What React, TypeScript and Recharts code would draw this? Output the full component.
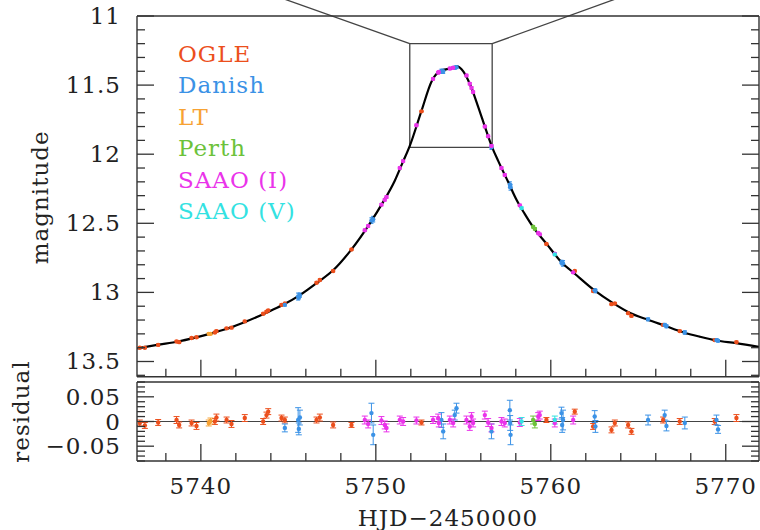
import React from "react";
import {
  ComposedChart,
  Line,
  Scatter,
  XAxis,
  YAxis,
  ErrorBar,
  ReferenceLine,
  ReferenceArea,
  Legend,
} from "recharts";

const FONT = "'DejaVu Serif', serif";
const INK = "#333";

// model light curve (HJD-2450000, mag)
const model = [
  { t: 5736.35, mag: 13.406 },
  { t: 5737.5, mag: 13.38 },
  { t: 5738.7, mag: 13.355 },
  { t: 5740.5, mag: 13.3 },
  { t: 5741.66, mag: 13.256 },
  { t: 5742.5, mag: 13.215 },
  { t: 5743.75, mag: 13.147 },
  { t: 5744.7, mag: 13.09 },
  { t: 5745.66, mag: 13.02 },
  { t: 5746.7, mag: 12.925 },
  { t: 5747.56, mag: 12.84 },
  { t: 5748.6, mag: 12.69 },
  { t: 5749.66, mag: 12.5 },
  { t: 5750.42, mag: 12.345 },
  { t: 5751.09, mag: 12.19 },
  { t: 5751.5, mag: 12.07 },
  { t: 5751.94, mag: 11.94 },
  { t: 5752.6, mag: 11.69 },
  { t: 5753.2, mag: 11.47 },
  { t: 5753.66, mag: 11.4 },
  { t: 5754.23, mag: 11.38 },
  { t: 5754.7, mag: 11.367 },
  { t: 5754.9, mag: 11.385 },
  { t: 5755.37, mag: 11.49 },
  { t: 5755.85, mag: 11.657 },
  { t: 5756.3, mag: 11.826 },
  { t: 5756.65, mag: 11.95 },
  { t: 5757.0, mag: 12.05 },
  { t: 5757.56, mag: 12.2 },
  { t: 5758.04, mag: 12.33 },
  { t: 5758.5, mag: 12.43 },
  { t: 5758.99, mag: 12.527 },
  { t: 5759.75, mag: 12.647 },
  { t: 5760.6, mag: 12.78 },
  { t: 5761.37, mag: 12.865 },
  { t: 5762.5, mag: 12.986 },
  { t: 5763.56, mag: 13.078 },
  { t: 5764.5, mag: 13.147 },
  { t: 5765.56, mag: 13.198 },
  { t: 5766.5, mag: 13.24 },
  { t: 5767.56, mag: 13.288 },
  { t: 5768.5, mag: 13.32 },
  { t: 5769.47, mag: 13.348 },
  { t: 5770.6, mag: 13.367 },
  { t: 5771.9, mag: 13.395 },
];

const ogle = [
  { t: 5736.51, mag: 13.4, res: -0.003, err: 0.006 },
  { t: 5736.8, mag: 13.4, res: -0.008, err: 0.006 },
  { t: 5737.56, mag: 13.38, res: -0.002, err: 0.006 },
  { t: 5738.61, mag: 13.355, res: 0.003, err: 0.007 },
  { t: 5738.76, mag: 13.36, res: -0.007, err: 0.006 },
  { t: 5739.47, mag: 13.33, res: -0.003, err: 0.006 },
  { t: 5739.75, mag: 13.325, res: -0.009, err: 0.007 },
  { t: 5740.8, mag: 13.29, res: 0.0, err: 0.006 },
  { t: 5740.89, mag: 13.28, res: 0.008, err: 0.007 },
  { t: 5741.47, mag: 13.26, res: 0.003, err: 0.006 },
  { t: 5741.75, mag: 13.255, res: -0.005, err: 0.007 },
  { t: 5742.51, mag: 13.21, res: 0.007, err: 0.007 },
  { t: 5743.56, mag: 13.155, res: 0.0, err: 0.006 },
  { t: 5743.75, mag: 13.14, res: 0.013, err: 0.006 },
  { t: 5743.85, mag: 13.13, res: 0.02, err: 0.006 },
  { t: 5744.61, mag: 13.09, res: 0.007, err: 0.006 },
  { t: 5744.8, mag: 13.08, res: 0.003, err: 0.006 },
  { t: 5746.61, mag: 12.93, res: 0.003, err: 0.006 },
  { t: 5746.8, mag: 12.91, res: 0.008, err: 0.007 },
  { t: 5747.56, mag: 12.845, res: -0.007, err: 0.006 },
  { t: 5748.61, mag: 12.69, res: -0.007, err: 0.005 },
  { t: 5752.61, mag: 11.69, res: -0.002, err: 0.005 },
  { t: 5759.75, mag: 12.65, res: 0.003, err: 0.005 },
  { t: 5761.37, mag: 12.845, res: 0.02, err: 0.005 },
  { t: 5762.42, mag: 12.99, res: -0.01, err: 0.006 },
  { t: 5763.47, mag: 13.085, res: -0.017, err: 0.006 },
  { t: 5763.66, mag: 13.08, res: -0.003, err: 0.006 },
  { t: 5764.42, mag: 13.15, res: -0.007, err: 0.006 },
  { t: 5764.61, mag: 13.17, res: -0.02, err: 0.006 },
  { t: 5766.42, mag: 13.235, res: 0.003, err: 0.006 },
  { t: 5767.37, mag: 13.28, res: 0.0, err: 0.006 },
  { t: 5769.37, mag: 13.345, res: 0.0, err: 0.006 },
  { t: 5770.61, mag: 13.36, res: 0.007, err: 0.007 },
];

const danish = [
  { t: 5744.8, mag: 13.09, res: -0.013, err: 0.008 },
  { t: 5745.56, mag: 13.03, res: 0.003, err: 0.025 },
  { t: 5745.66, mag: 13.02, res: 0.008, err: 0.015 },
  { t: 5745.6, mag: 13.035, res: -0.015, err: 0.012 },
  { t: 5749.75, mag: 12.48, res: 0.017, err: 0.02 },
  { t: 5749.85, mag: 12.47, res: -0.027, err: 0.02 },
  { t: 5753.75, mag: 11.4, res: 0.003, err: 0.015 },
  { t: 5753.85, mag: 11.4, res: -0.02, err: 0.015 },
  { t: 5754.51, mag: 11.375, res: 0.013, err: 0.01 },
  { t: 5754.61, mag: 11.37, res: 0.027, err: 0.01 },
  { t: 5756.61, mag: 11.95, res: -0.02, err: 0.015 },
  { t: 5757.66, mag: 12.22, res: 0.023, err: 0.02 },
  { t: 5757.68, mag: 12.23, res: -0.003, err: 0.015 },
  { t: 5757.7, mag: 12.24, res: -0.027, err: 0.02 },
  { t: 5760.61, mag: 12.78, res: 0.017, err: 0.012 },
  { t: 5760.65, mag: 12.785, res: -0.007, err: 0.015 },
  { t: 5760.7, mag: 12.79, res: 0.003, err: 0.02 },
  { t: 5762.51, mag: 12.985, res: 0.01, err: 0.012 },
  { t: 5762.55, mag: 12.99, res: -0.01, err: 0.012 },
  { t: 5765.56, mag: 13.195, res: 0.003, err: 0.01 },
  { t: 5766.51, mag: 13.235, res: 0.013, err: 0.01 },
  { t: 5766.61, mag: 13.245, res: -0.009, err: 0.01 },
  { t: 5767.66, mag: 13.29, res: -0.003, err: 0.012 },
  { t: 5769.47, mag: 13.345, res: 0.003, err: 0.01 },
  { t: 5769.56, mag: 13.35, res: -0.016, err: 0.008 },
];

const lt = [
  { t: 5740.45, mag: 13.3, res: -0.003, err: 0.006 },
  { t: 5740.55, mag: 13.3, res: 0.001, err: 0.006 },
];

const perth = [
  { t: 5758.99, mag: 12.525, res: 0.003, err: 0.008 },
  { t: 5759.09, mag: 12.54, res: -0.005, err: 0.008 },
];

const saaoI = [
  { t: 5749.37, mag: 12.55, res: 0.003, err: 0.008 },
  { t: 5749.56, mag: 12.52, res: -0.005, err: 0.008 },
  { t: 5750.32, mag: 12.365, res: 0.002, err: 0.008 },
  { t: 5750.51, mag: 12.33, res: -0.007, err: 0.008 },
  { t: 5750.61, mag: 12.31, res: -0.013, err: 0.008 },
  { t: 5751.37, mag: 12.1, res: 0.003, err: 0.008 },
  { t: 5751.56, mag: 12.05, res: 0.0, err: 0.008 },
  { t: 5752.32, mag: 11.79, res: 0.002, err: 0.007 },
  { t: 5753.27, mag: 11.455, res: 0.003, err: 0.007 },
  { t: 5753.56, mag: 11.41, res: 0.007, err: 0.008 },
  { t: 5753.6, mag: 11.405, res: -0.003, err: 0.008 },
  { t: 5754.23, mag: 11.38, res: 0.003, err: 0.008 },
  { t: 5754.42, mag: 11.375, res: -0.003, err: 0.008 },
  { t: 5755.18, mag: 11.43, res: 0.003, err: 0.008 },
  { t: 5755.37, mag: 11.49, res: -0.01, err: 0.008 },
  { t: 5755.47, mag: 11.52, res: 0.01, err: 0.008 },
  { t: 5755.56, mag: 11.55, res: -0.003, err: 0.008 },
  { t: 5756.23, mag: 11.8, res: 0.013, err: 0.008 },
  { t: 5756.42, mag: 11.87, res: -0.002, err: 0.008 },
  { t: 5756.61, mag: 11.94, res: -0.013, err: 0.008 },
  { t: 5757.18, mag: 12.1, res: 0.0, err: 0.008 },
  { t: 5757.37, mag: 12.15, res: -0.003, err: 0.008 },
  { t: 5758.23, mag: 12.37, res: -0.002, err: 0.008 },
  { t: 5759.28, mag: 12.57, res: 0.01, err: 0.008 },
  { t: 5759.37, mag: 12.58, res: 0.013, err: 0.008 },
  { t: 5760.23, mag: 12.72, res: -0.003, err: 0.008 },
  { t: 5761.28, mag: 12.855, res: 0.003, err: 0.008 },
];

const saaoV = [
  { t: 5758.33, mag: 12.39, res: 0.0, err: 0.008 },
  { t: 5760.23, mag: 12.725, res: 0.003, err: 0.008 },
];

const series = [
  { name: "OGLE", color: "#ec4f1c", data: ogle },
  { name: "Danish", color: "#3b92e6", data: danish },
  { name: "LT", color: "#f7a233", data: lt },
  { name: "Perth", color: "#6cc23a", data: perth },
  { name: "SAAO (I)", color: "#ea33ea", data: saaoI },
  { name: "SAAO (V)", color: "#33e2e2", data: saaoV },
];

// axis ticks
const xTicks = [5738, 5740, 5742, 5744, 5746, 5748, 5750, 5752, 5754, 5756, 5758, 5760, 5762, 5764, 5766, 5768, 5770];
const xMajor = [5740, 5750, 5760, 5770];
const xLabels = ["5740", "5750", "5760", "5770"];
const magTicks = [
  11.0, 11.1, 11.2, 11.3, 11.4, 11.5, 11.6, 11.7, 11.8, 11.9, 12.0, 12.1, 12.2, 12.3,
  12.4, 12.5, 12.6, 12.7, 12.8, 12.9, 13.0, 13.1, 13.2, 13.3, 13.4, 13.5, 13.6,
];
const magMajor = [11, 11.5, 12, 12.5, 13, 13.5];
const magLabels = ["11", "11.5", "12", "12.5", "13", "13.5"];
const resTicks = [-0.08, -0.07, -0.06, -0.05, -0.04, -0.03, -0.02, -0.01, 0, 0.01, 0.02, 0.03, 0.04, 0.05, 0.06, 0.07, 0.08];
const resMajor = [-0.05, 0, 0.05];
const resLabels = ["\u22120.05", "0", "0.05"];

const X_DOMAIN = [5736.35, 5771.9];

const textStyle = { fontFamily: FONT, fontSize: 23, fill: "#222", letterSpacing: 1 };

const makeTick = (side: string, major: number[], labels?: string[]) => (props: any) => {
  const { x, y, payload } = props;
  const idx = major.findIndex((m) => Math.abs(m - payload.value) < 1e-6);
  const len = idx >= 0 ? 17 : 8;
  let l = { x1: x, x2: x, y1: y, y2: y };
  if (side === "bottom") l.y2 = y - len;
  if (side === "top") l.y2 = y + len;
  if (side === "left") l.x2 = x + len;
  if (side === "right") l.x2 = x - len;
  return (
    <g>
      <line {...l} stroke={INK} strokeWidth={1.3} />
      {labels && idx >= 0 && side === "bottom" && (
        <text x={x} y={y + 33} textAnchor="middle" {...textStyle}>
          {labels[idx]}
        </text>
      )}
      {labels && idx >= 0 && side === "left" && (
        <text x={x - 16} y={y + 8} textAnchor="end" {...textStyle}>
          {labels[idx]}
        </text>
      )}
    </g>
  );
};

const sideLabel = (text: string, dx: number, dy: number) => (p: any) => {
  const vb = p.viewBox || {};
  const cx = vb.x + vb.width + dx;
  const cy = vb.y + vb.height / 2 + dy;
  return (
    <text
      x={cx}
      y={cy}
      transform={`rotate(-90 ${cx} ${cy})`}
      textAnchor="middle"
      dominantBaseline="central"
      {...textStyle}
    >
      {text}
    </text>
  );
};

const bottomLabel = (p: any) => {
  const vb = p.viewBox || {};
  return (
    <text x={vb.x + vb.width / 2} y={vb.y + 57} textAnchor="middle" dominantBaseline="central" {...textStyle}>
      HJD{"\u2212"}2450000
    </text>
  );
};

const dot = (color: string) => (p: any) => <circle cx={p.cx} cy={p.cy} r={2.2} fill={color} />;

const LegendBox = () => (
  <div style={{ fontFamily: FONT, fontSize: 23, lineHeight: "31.4px", letterSpacing: 1 }}>
    {series.map((s) => (
      <div key={s.name} style={{ color: s.color }}>
        {s.name}
      </div>
    ))}
  </div>
);

const axisLine = { stroke: INK, strokeWidth: 1.4 };

const App = () => (
  <div style={{ position: "absolute", left: 0, top: 0, width: 760, height: 530, background: "#fff" }}>
    <div style={{ position: "absolute", left: 0, top: 0 }}>
      <ComposedChart width={760} height={380} margin={{ top: 15, right: 0, bottom: 2.3, left: 136 }}>
        <XAxis xAxisId="b" dataKey="t" type="number" domain={X_DOMAIN} ticks={xTicks} interval={0}
          allowDataOverflow height={1} tickSize={0} tickMargin={0} axisLine={axisLine}
          tick={makeTick("bottom", xMajor)} />
        <XAxis xAxisId="t" orientation="top" type="number" domain={X_DOMAIN} ticks={xTicks} interval={0}
          allowDataOverflow height={1} tickSize={0} tickMargin={0} axisLine={axisLine}
          tick={makeTick("top", xMajor)} />
        <YAxis yAxisId="l" dataKey="mag" type="number" domain={[11, 13.61]} reversed ticks={magTicks} interval={0}
          allowDataOverflow width={1} tickSize={0} tickMargin={0} axisLine={axisLine}
          tick={makeTick("left", magMajor, magLabels)} label={{ content: sideLabel("magnitude", -97, 1) }} />
        <YAxis yAxisId="r" orientation="right" type="number" domain={[11, 13.61]} reversed ticks={magTicks} interval={0}
          allowDataOverflow width={1} tickSize={0} tickMargin={0} axisLine={axisLine}
          tick={makeTick("right", magMajor)} />
        <ReferenceArea xAxisId="b" yAxisId="l" x1={5751.94} x2={5756.65} y1={11.2} y2={11.95}
          fill="none" fillOpacity={0} stroke="#444" strokeWidth={1.3} />
        <ReferenceLine xAxisId="b" yAxisId="l" ifOverflow="visible" stroke="#444" strokeWidth={1.3}
          segment={[{ x: 5751.94, y: 11.2 }, { x: 5744.16, y: 10.85 }]} />
        <ReferenceLine xAxisId="b" yAxisId="l" ifOverflow="visible" stroke="#444" strokeWidth={1.3}
          segment={[{ x: 5756.65, y: 11.2 }, { x: 5764.29, y: 10.85 }]} />
        {series.map((s) => (
          <Scatter key={s.name} name={s.name} xAxisId="b" yAxisId="l" data={s.data} dataKey="mag"
            fill={s.color} shape={dot(s.color)} isAnimationActive={false}>
            <ErrorBar dataKey="err" direction="y" width={2} stroke={s.color} strokeWidth={1.2} />
          </Scatter>
        ))}
        <Line xAxisId="b" yAxisId="l" data={model} dataKey="mag" type="monotone" stroke="#000"
          strokeWidth={2.2} dot={false} legendType="none" isAnimationActive={false} />
        <Legend layout="vertical" align="center" verticalAlign="middle" content={<LegendBox />}
          wrapperStyle={{ position: "absolute", left: 178, top: 39, width: "auto", height: "auto" }} />
      </ComposedChart>
    </div>
    <div style={{ position: "absolute", left: 0, top: 340 }}>
      <ComposedChart width={760} height={190} margin={{ top: 41, right: 0, bottom: 68, left: 136 }}>
        <XAxis xAxisId="b" dataKey="t" type="number" domain={X_DOMAIN} ticks={xTicks} interval={0}
          allowDataOverflow height={1} tickSize={0} tickMargin={0} axisLine={axisLine}
          tick={makeTick("bottom", xMajor, xLabels)} label={{ content: bottomLabel }} />
        <XAxis xAxisId="t" orientation="top" type="number" domain={X_DOMAIN} ticks={xTicks} interval={0}
          allowDataOverflow height={1} tickSize={0} tickMargin={0} axisLine={axisLine}
          tick={makeTick("top", xMajor)} />
        <YAxis yAxisId="l" dataKey="res" type="number" domain={[-0.08, 0.08]} ticks={resTicks} interval={0}
          allowDataOverflow width={1} tickSize={0} tickMargin={0} axisLine={axisLine}
          tick={makeTick("left", resMajor, resLabels)} label={{ content: sideLabel("residual", -116, -10) }} />
        <YAxis yAxisId="r" orientation="right" type="number" domain={[-0.08, 0.08]} ticks={resTicks} interval={0}
          allowDataOverflow width={1} tickSize={0} tickMargin={0} axisLine={axisLine}
          tick={makeTick("right", resMajor)} />
        <ReferenceLine xAxisId="b" yAxisId="l" y={0} stroke="#444" strokeWidth={1} />
        {series.map((s) => (
          <Scatter key={s.name} name={s.name} xAxisId="b" yAxisId="l" data={s.data} dataKey="res"
            fill={s.color} shape={dot(s.color)} isAnimationActive={false}>
            <ErrorBar dataKey="err" direction="y" width={3} stroke={s.color} strokeWidth={1} />
          </Scatter>
        ))}
      </ComposedChart>
    </div>
  </div>
);

export default App;
